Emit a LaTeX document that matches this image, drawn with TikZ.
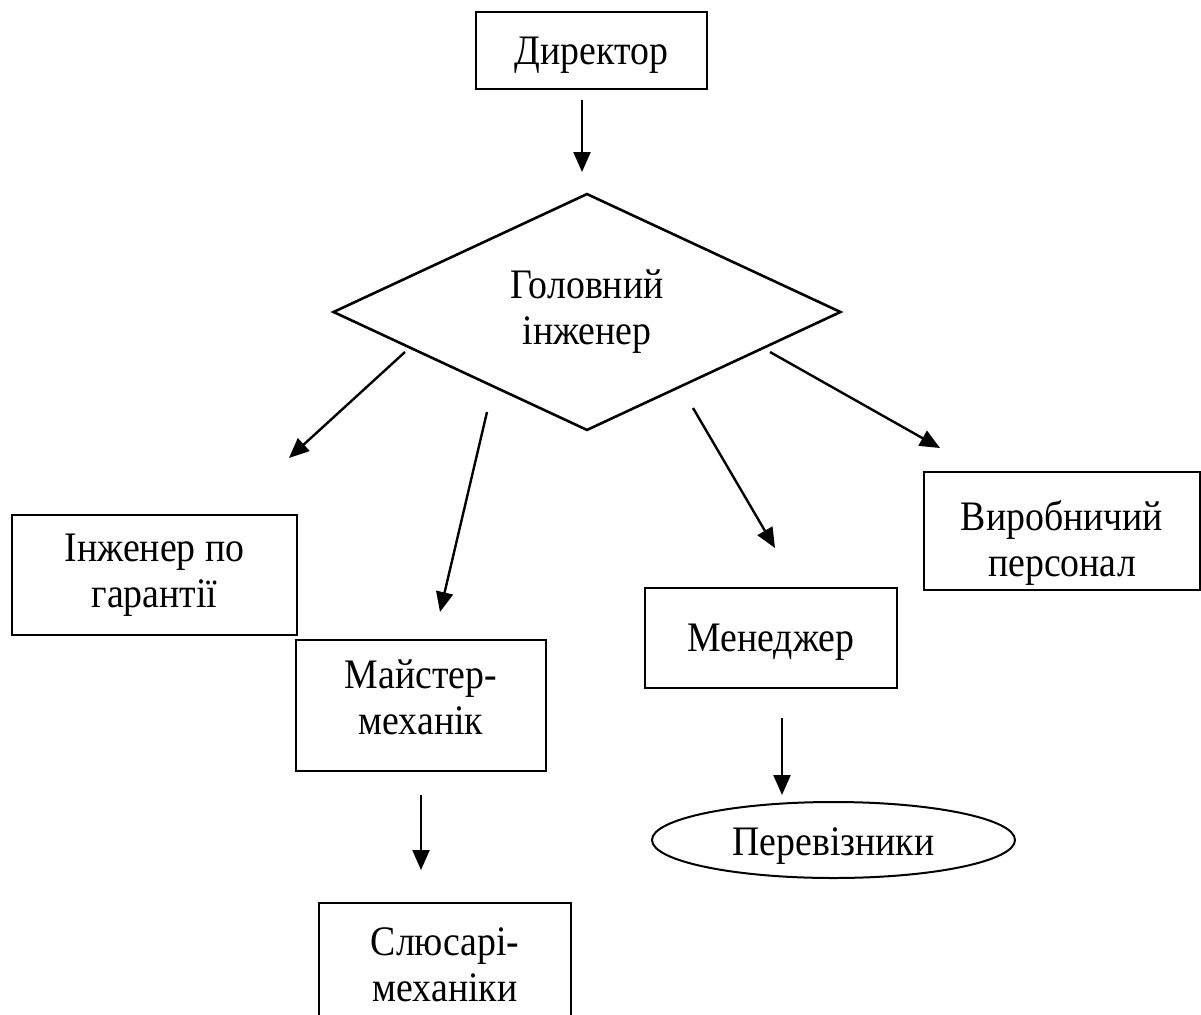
\documentclass[tikz,border=0pt]{standalone}
\usepackage{fontspec}
\setmainfont{Liberation Serif}[FakeStretch=0.9]
\usetikzlibrary{arrows.meta,shapes.geometric}
\newcommand{\lowered}[2]{\raisebox{-#1}[\dimexpr\height+#1\relax][\dimexpr\depth-#1\relax]{\begin{tabular}{@{}c@{}}#2\end{tabular}}}
\begin{document}
\begin{tikzpicture}[x=1pt,y=-1pt,
  txt/.style={font=\fontsize{42}{46}\selectfont,align=center},
  box/.style={txt,draw,line width=2.6pt,rectangle,inner sep=0pt},
  dia/.style={txt,draw,line width=2.6pt,diamond,inner sep=0pt},
  ell/.style={txt,draw,line width=2pt,ellipse,inner sep=0pt},
  arr/.style={line width=2.4pt,-{Triangle[length=20pt,width=17pt]}}]
\useasboundingbox (0,0) rectangle (1201,1014);
\clip (0,0) rectangle (1201,1014);
% nodes
\node[box,minimum width=231pt,minimum height=77pt] (dir) at (591.5,50.5) {\lowered{2.5pt}{Директор}};
\node[dia,minimum width=508pt,minimum height=232pt] (gol) at (587,312) {Головний\\інженер};
\node[box,minimum width=285pt,minimum height=120pt] (inz) at (154.5,575) {Інженер по\\гарантії};
\node[box,minimum width=250pt,minimum height=131pt] (mai) at (421,705.5) {\lowered{-1.5pt}{Майстер-\\механік}};
\node[box,minimum width=252pt,minimum height=100pt] (men) at (771,638) {\lowered{2pt}{Менеджер}};
\node[box,minimum width=276pt,minimum height=118pt] (vyr) at (1062,531) {\lowered{6.5pt}{Виробничий\\персонал}};
\node[ell,minimum width=363pt,minimum height=76pt] (per) at (833.5,840) {\lowered{3pt}{Перевізники}};
\node[box,minimum width=252pt,minimum height=124pt] (slu) at (445,965) {Слюсарі-\\механіки};
% arrow end points
\coordinate (a1s) at (582,100);  \coordinate (a1e) at (582,172);
\coordinate (a2s) at (405,352);  \coordinate (a2e) at (289,458);
\coordinate (a3s) at (487,412);  \coordinate (a3e) at (440,612);
\coordinate (a4s) at (693,408);  \coordinate (a4e) at (775,548);
\coordinate (a5s) at (770,352);  \coordinate (a5e) at (940,448);
\coordinate (a6s) at (421,795);  \coordinate (a6e) at (421,870);
\coordinate (a7s) at (782,718);  \coordinate (a7e) at (782,795);
% connectors
\draw[arr] (a1s) -- (a1e);
\draw[arr] (a2s) -- (a2e);
\draw[arr] (a3s) -- (a3e);
\draw[arr] (a4s) -- (a4e);
\draw[arr] (a5s) -- (a5e);
\draw[arr] (a6s) -- (a6e);
\draw[arr] (a7s) -- (a7e);
\end{tikzpicture}
\end{document}
